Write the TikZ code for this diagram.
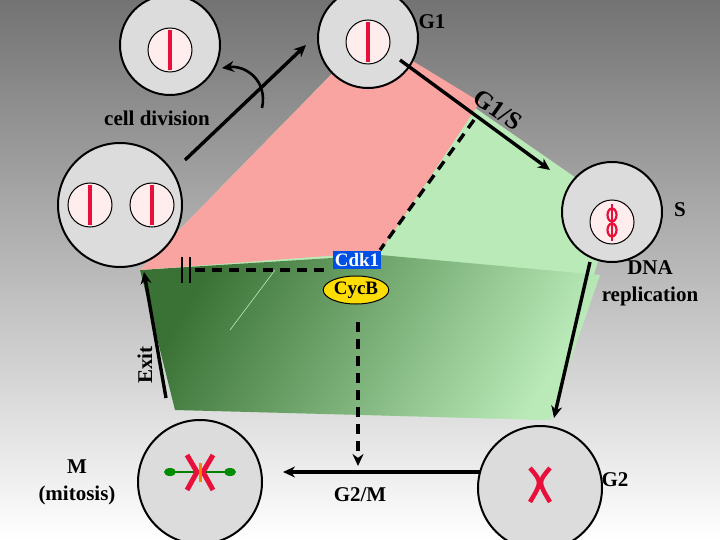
\documentclass[tikz,border=0pt]{standalone}
\usepackage{fontspec}
\setmainfont{Liberation Serif}
\usetikzlibrary{arrows.meta,shapes.geometric}
\definecolor{pinkR}{HTML}{F9A4A0}
\definecolor{lgreen}{HTML}{B9EAB8}
\definecolor{dgreen}{HTML}{3A7235}
\definecolor{cellg}{HTML}{DCDCDC}
\definecolor{chr}{HTML}{E8103A}
\begin{document}
\begin{tikzpicture}[x=1pt,y=-1pt,
  cell/.style={circle,draw=black,line width=2pt,fill=cellg,inner sep=0pt},
  nuc/.style={circle,draw=black,line width=1pt,fill=pink!30,inner sep=0pt,minimum size=44pt},
  arr/.style={line width=3.4pt,-{Stealth[length=12pt,width=11pt]}},
  dsh/.style={line width=3.4pt,dash pattern=on 10pt off 7pt},
  lab/.style={font=\bfseries\fontsize{21}{24}\selectfont,align=center},
  chrom/.style={chr,line width=4pt}]
\useasboundingbox (0,0) rectangle (720,540);
\shade[top color=gray!90!black,bottom color=white] (0,0) rectangle (720,540);
% pentagon
\fill[lgreen] (370,35) -- (615,205) -- (550,420) -- (175,410) -- (140,270) -- cycle;
\shade[left color=dgreen,right color=lgreen,shading angle=60] (140,270) -- (380,255) -- (600,275) -- (550,420) -- (175,410) -- cycle;
\fill[pinkR] (140,270) -- (370,35) -- (480,102) -- (380,252) -- cycle;
\draw[white!80!green,line width=0.5pt] (275,270) -- (230,330);
% circles
\node[cell,minimum size=100pt] (c0) at (170,45) {};
\node[cell,minimum size=100pt] (g1) at (368,38) {};
\node[cell,minimum size=124pt] (cd) at (120,205) {};
\node[cell,minimum size=100pt] (sc) at (612,212) {};
\node[cell,minimum size=124pt] (g2) at (540,488) {};
\node[cell,minimum size=124pt] (mc) at (200,482) {};
\node[nuc] (n0) at (170,50) {};
\node[nuc] (n1) at (368,42) {};
\node[nuc] (n2) at (90,205) {};
\node[nuc] (n3) at (152,205) {};
\node[nuc] (n4) at (612,222) {};
\draw[chrom] (170,30) -- (170,70);
\draw[chrom] (368,22) -- (368,62);
\draw[chrom] (90,185) -- (90,225);
\draw[chrom] (152,185) -- (152,225);
\draw[chr,line width=2.5pt] (612,204) -- (612,241);
\draw[chr,line width=2.2pt] (612,215) circle[x radius=4.5pt,y radius=6.5pt];
\draw[chr,line width=2.2pt] (612,230) circle[x radius=4.5pt,y radius=6.5pt];
% G2 chromosomes
\draw[chrom,line width=4.5pt] (530,468) .. controls (542,482) .. (530,502);
\draw[chrom,line width=4.5pt] (550,468) .. controls (538,482) .. (550,502);
% M chromosomes
\draw[green!50!black,line width=1.5pt] (170,472) -- (230,472);
\fill[green!55!black] (170,472) ellipse[x radius=6pt,y radius=4pt];
\fill[green!55!black] (230,472) ellipse[x radius=6pt,y radius=4pt];
\draw[chrom,line width=5pt] (187,455) -- (197,472) -- (187,490);
\draw[chrom,line width=5pt] (213,455) -- (203,472) -- (213,490);
\draw[orange,line width=3pt] (200,463) -- (200,482);
% arrows
\coordinate (a1) at (185,160); \coordinate (a2) at (306,45);
\draw[arr] (a1) -- (a2);
\coordinate (b1) at (400,60); \coordinate (b2) at (550,170);
\draw[arr] (b1) -- (b2);
\coordinate (r1) at (590,262); \coordinate (r2) at (554,418);
\draw[arr] (r1) -- (r2);
\coordinate (m1) at (480,472); \coordinate (m2) at (283,472);
\draw[arr] (m1) -- (m2);
\coordinate (e1) at (166,398); \coordinate (e2) at (144,272);
\draw[arr] (e1) -- (e2);
\coordinate (cv1) at (262,108); \coordinate (cv2) at (222,68);
\draw[arr,line width=2.6pt] (cv1) .. controls (268,80) and (245,65) .. (cv2);
% regulators
\node[fill=blue!65!cyan!90!black,text=white,font=\bfseries\fontsize{19}{21}\selectfont,inner sep=2pt] (cdk) at (357,260) {Cdk1};
\node[ellipse,draw=black,line width=1pt,fill=yellow!80!orange,font=\bfseries\fontsize{19}{21}\selectfont,inner sep=1pt,minimum width=62pt,minimum height=28pt] (cyc) at (356,290) {CycB};
\coordinate (d1) at (474,120);
\coordinate (d2) at (380,250);
\draw[dsh] (d1) -- (d2);
\coordinate (d3) at (324,270);
\coordinate (d4) at (190,270);
\draw[dsh] (d3) -- (d4);
\draw[line width=2.6pt] (182,257) -- (182,283) (190,257) -- (190,283);
\coordinate (v1) at (358,322); \coordinate (v2) at (358,466);
\draw[dsh,-{Stealth[length=12pt,width=11pt]}] (v1) -- (v2);
% labels
\node[lab] (tG1) at (432,22) {G1};
\node[lab,rotate=-35,font=\bfseries\fontsize{25}{27}\selectfont] (tG1S) at (498,110) {G1/S};
\node[lab] (tcd) at (157,118) {cell division};
\node[lab] (tS) at (680,210) {S};
\node[lab,font=\bfseries\fontsize{21}{27}\selectfont] (tdna) at (650,283) {DNA\\replication};
\node[lab,rotate=90] (tex) at (145,365) {Exit};
\node[lab,font=\bfseries\fontsize{21}{27}\selectfont] (tM) at (77,482) {M\\(mitosis)};
\node[lab] (tG2M) at (360,495) {G2/M};
\node[lab] (tG2) at (615,480) {G2};
\end{tikzpicture}
\end{document}
